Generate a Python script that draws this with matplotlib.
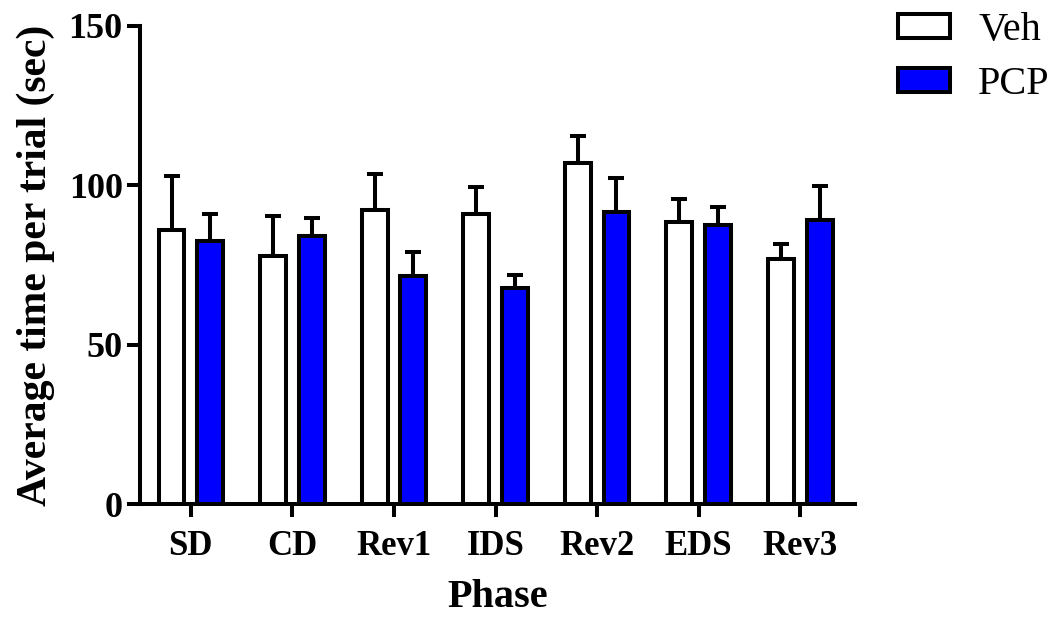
import numpy as np
import matplotlib
matplotlib.use("Agg")
import matplotlib.pyplot as plt
from matplotlib.patches import Patch

# data
phases = ["SD", "CD", "Rev1", "IDS", "Rev2", "EDS", "Rev3"]
veh_mean = [86.1, 77.7, 92.3, 90.9, 107.0, 88.6, 76.8]
veh_top = [102.9, 90.3, 103.6, 99.4, 115.6, 95.7, 81.7]
pcp_mean = [82.5, 84.0, 71.5, 67.7, 91.6, 87.6, 89.2]
pcp_top = [90.9, 89.6, 79.2, 72.0, 102.2, 93.2, 99.7]
group_labels = ["Veh", "PCP"]

veh_err = np.array(veh_top) - np.array(veh_mean)
pcp_err = np.array(pcp_top) - np.array(pcp_mean)

plt.rcParams["font.family"] = ["Liberation Serif", "DejaVu Serif"]

fig = plt.figure(figsize=(10.61, 6.17), dpi=100)
ax = fig.add_axes([0.132, 0.183, 0.674, 0.775])

x = np.arange(len(phases))
offset = 0.19
width = 0.255
lw = 2.9

ax.bar(x - offset, veh_mean, width, color="white", edgecolor="black", linewidth=lw, zorder=3)
ax.bar(x + offset, pcp_mean, width, color="#0000ff", edgecolor="black", linewidth=lw, zorder=3)

# only the upper half of the error bar is shown
zeros = np.zeros(len(phases))
ax.errorbar(x - offset, veh_mean, yerr=[zeros, veh_err], fmt="none", ecolor="black",
            elinewidth=lw, capsize=5.6, capthick=lw, zorder=2)
ax.errorbar(x + offset, pcp_mean, yerr=[zeros, pcp_err], fmt="none", ecolor="black",
            elinewidth=lw, capsize=5.6, capthick=lw, zorder=2)

ax.set_xlim(-0.5, 6.54)
ax.set_ylim(0, 150)
ax.set_yticks([0, 50, 100, 150])
ax.set_xticks(x)
ax.set_xticklabels(phases)

for side in ["top", "right"]:
    ax.spines[side].set_visible(False)
for side in ["left", "bottom"]:
    ax.spines[side].set_linewidth(lw)

ax.tick_params(axis="y", direction="out", length=9.5, width=lw, labelsize=26, pad=3)
ax.tick_params(axis="x", direction="out", length=9, width=lw, labelsize=25, pad=10)
for lab in ax.get_xticklabels() + ax.get_yticklabels():
    lab.set_fontweight("bold")

ax.set_xlabel("Phase", fontsize=29, fontweight="bold", labelpad=11)
ax.set_ylabel("Average time per trial (sec)", fontsize=30, fontweight="bold", labelpad=10)

handles = [Patch(facecolor="white", edgecolor="black", linewidth=lw),
           Patch(facecolor="#0000ff", edgecolor="black", linewidth=lw)]
fig.legend(handles, group_labels, loc="upper left", bbox_to_anchor=(0.846, 0.98),
           frameon=False, fontsize=29, handlelength=1.3, handleheight=0.55,
           handletextpad=0.7, labelspacing=0.42, borderpad=0.0, borderaxespad=0.0)

fig.savefig("out.png", dpi=100)
